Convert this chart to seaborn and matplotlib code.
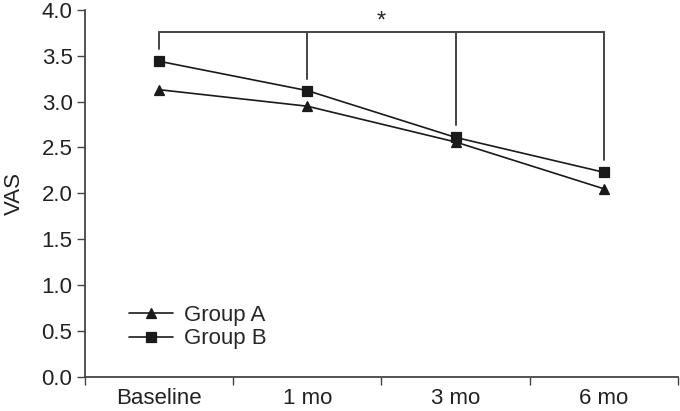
import matplotlib
matplotlib.use("Agg")
import matplotlib.pyplot as plt
import pandas as pd
import seaborn as sns

# data
times = ["Baseline", "1 mo", "3 mo", "6 mo"]
group_a = [3.13, 2.95, 2.56, 2.05]
group_b = [3.44, 3.12, 2.61, 2.23]
y_ticks = [0.0, 0.5, 1.0, 1.5, 2.0, 2.5, 3.0, 3.5, 4.0]

df = pd.DataFrame({
    "time": times * 2,
    "VAS": group_a + group_b,
    "group": ["Group A"] * len(times) + ["Group B"] * len(times),
})

sns.set_style("ticks")
plt.rcParams["font.family"] = ["Liberation Sans", "DejaVu Sans"]
plt.rcParams["font.size"] = 16

fig = plt.figure(figsize=(6.8, 4.11), dpi=100)
ax = fig.add_axes([0.125, 0.083, 0.872, 0.893])

sns.pointplot(data=df, x="time", y="VAS", hue="group", order=times,
              palette=["#1a1a1a", "#1a1a1a"], markers=["^", "s"],
              linestyles=["-", "-"], markersize=7.5, linewidth=1.2,
              errorbar=None, ax=ax)

# significance bracket over Group B
bracket_y = 3.76
ax.plot([0, 3], [bracket_y, bracket_y], color="#444444", lw=1.4, clip_on=False)
for i, v in enumerate(group_b):
    ax.plot([i, i], [bracket_y, v + 0.13], color="#444444", lw=1.4)
ax.text(1.5, 3.87, "*", ha="center", va="center", fontsize=17)

ax.set_xlim(-0.5, 3.5)
ax.set_ylim(0, 4.0)
ax.set_yticks(y_ticks)
ax.set_yticklabels([f"{t:.1f}" for t in y_ticks], fontsize=16, color="#222222")
ax.set_xticks([-0.5, 0.5, 1.5, 2.5, 3.5])
ax.set_xticklabels([])
ax.set_xticks(range(len(times)), minor=True)
ax.set_xticklabels(times, minor=True, fontsize=16, color="#222222")
ax.tick_params(axis="x", which="minor", length=0, pad=8)
ax.tick_params(axis="x", which="major", length=6, width=1, color="#444444")
ax.tick_params(axis="y", length=6, width=1, color="#444444", pad=3)
ax.set_xlabel("")
ax.set_ylabel("VAS", fontsize=16, color="#222222", labelpad=12)
for s in ["top", "right"]:
    ax.spines[s].set_visible(False)
for s in ["left", "bottom"]:
    ax.spines[s].set_color("#444444")
    ax.spines[s].set_linewidth(1.3)

leg = ax.legend(loc="upper left", bbox_to_anchor=(0.04, 0.25), frameon=False,
                fontsize=16, handlelength=2.0, labelspacing=0.1,
                handletextpad=0.5)

fig.savefig("out.png", dpi=100)
